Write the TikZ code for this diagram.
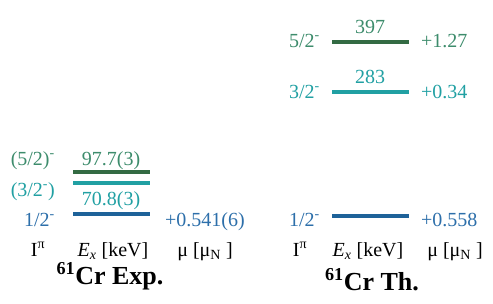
\documentclass[tikz,border=0pt]{standalone}
\usepackage{fontspec}
\setmainfont{Liberation Serif}
\definecolor{lvgreen}{HTML}{336B43}
\definecolor{txgreen}{HTML}{3D8C6C}
\definecolor{lvteal}{HTML}{21A0A3}
\definecolor{lvblue}{HTML}{1E6299}
\definecolor{txblue}{HTML}{2D6FAA}
\begin{document}
\begin{tikzpicture}[x=1pt, y=-1pt, every node/.style={font=\fontsize{20}{24}\selectfont, inner sep=0pt},
    level/.style={line width=4.5pt}, title/.style={font=\fontsize{26}{30}\selectfont\bfseries}]
    \useasboundingbox (0,0) rectangle (493,303);

    % Experiment levels
    \draw[level, lvgreen] (73,172) -- (150,172);
    \draw[level, lvteal] (73,183) -- (150,183);
    \draw[level, lvblue] (73,214) -- (150,214);

    \node[anchor=base, txgreen] (eexp5) at (111,165) {97.7(3)};
    \node[anchor=base, lvteal] (eexp3) at (111,205) {70.8(3)};

    \node[anchor=base east, txgreen] (jexp5) at (55,165) {(5/2)\textsuperscript{-}};
    \node[anchor=base east, lvteal] (jexp3) at (55,196) {(3/2\textsuperscript{-})};
    \node[anchor=base east, txblue] (jexp1) at (55,226) {1/2\textsuperscript{-}};
    \node[anchor=base west, txblue] (muexp1) at (165,226) {+0.541(6)};

    % Theory levels
    \draw[level, lvgreen] (332,42) -- (409,42);
    \draw[level, lvteal] (332,92) -- (409,92);
    \draw[level, lvblue] (332,216) -- (409,216);

    \node[anchor=base, txgreen] (eth5) at (370,33) {397};
    \node[anchor=base, lvteal] (eth3) at (370,83) {283};

    \node[anchor=base east, txgreen] (jth5) at (320,47) {5/2\textsuperscript{-}};
    \node[anchor=base east, lvteal] (jth3) at (320,98) {3/2\textsuperscript{-}};
    \node[anchor=base east, txblue] (jth1) at (320,226) {1/2\textsuperscript{-}};
    \node[anchor=base west, txgreen] (muth5) at (421,47) {+1.27};
    \node[anchor=base west, lvteal] (muth3) at (421,98) {+0.34};
    \node[anchor=base west, txblue] (muth1) at (421,226) {+0.558};

    % Spalten
    \node[anchor=base] (spexp) at (38,256) {I\textsuperscript{π}};
    \node[anchor=base] (exexp) at (113,256) {\textit{E}\textsubscript{\textit{x}} [keV]};
    \node[anchor=base] (muexp) at (205,256) {μ [μ\textsubscript{N} ]};
    \node[anchor=base] (spth) at (300,256) {I\textsuperscript{π}};
    \node[anchor=base] (exth) at (368,256) {\textit{E}\textsubscript{\textit{x}} [keV]};
    \node[anchor=base] (muth) at (455,256) {μ [μ\textsubscript{N} ]};

    \node[anchor=base, title] (titexp) at (110,284) {\textsuperscript{61}Cr Exp.};
    \node[anchor=base, title] (titth) at (372,290) {\textsuperscript{61}Cr Th.};
\end{tikzpicture}
\end{document}
